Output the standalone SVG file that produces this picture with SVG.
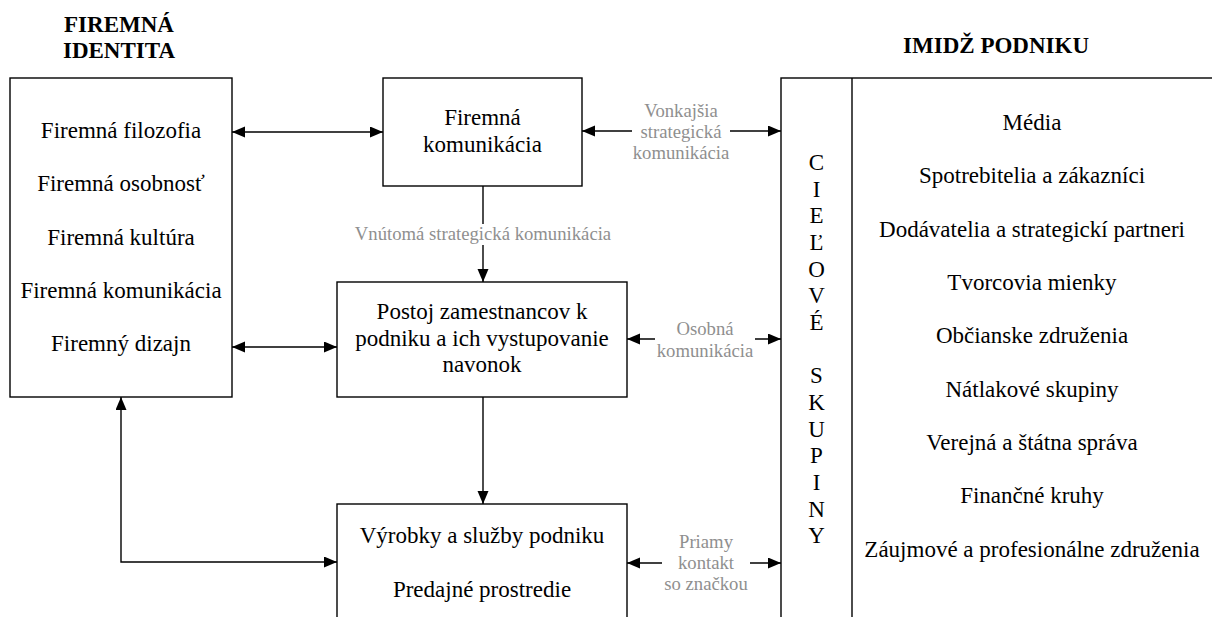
<svg xmlns="http://www.w3.org/2000/svg" width="1212" height="617" viewBox="0 0 1212 617">
<defs>
<marker id="ah" markerUnits="userSpaceOnUse" markerWidth="14" markerHeight="12" refX="13" refY="5.5" orient="auto-start-reverse"><path d="M0,0 L13,5.5 L0,11 z" fill="#000"/></marker>
</defs>
<style>
.box{fill:#fff;stroke:#000;stroke-width:1.4}
.t{font-family:'Liberation Serif',serif;font-size:23px;fill:#000;text-anchor:middle}
.h{font-family:'Liberation Serif',serif;font-size:23px;font-weight:bold;fill:#000;text-anchor:middle}
.g{font-family:'Liberation Serif',serif;font-size:18.7px;fill:#8f8f8f;text-anchor:middle}
.c{fill:none;stroke:#000;stroke-width:1.4}
.bg{fill:#fff;stroke:none}
</style>
<rect width="1212" height="617" fill="#fff"/>
<g id="title-identity">
<text class="h" x="119" y="32">FIREMNÁ</text>
<text class="h" x="119" y="58">IDENTITA</text>
</g>
<g id="title-image">
<text class="h" x="1089" y="53" style="text-anchor:end">IMIDŽ PODNIKU</text>
</g>
<g id="connectors">
<line class="c" x1="232" y1="132" x2="383" y2="132" marker-start="url(#ah)" marker-end="url(#ah)"/>
<line class="c" x1="232" y1="347" x2="337" y2="347" marker-start="url(#ah)" marker-end="url(#ah)"/>
<line class="c" x1="582" y1="131" x2="781" y2="131" marker-start="url(#ah)" marker-end="url(#ah)"/>
<line class="c" x1="483" y1="186" x2="483" y2="282" marker-end="url(#ah)"/>
<line class="c" x1="627" y1="339" x2="781" y2="339" marker-start="url(#ah)" marker-end="url(#ah)"/>
<line class="c" x1="483" y1="397" x2="483" y2="504" marker-end="url(#ah)"/>
<polyline class="c" points="121,397 121,562 337,562" marker-start="url(#ah)" marker-end="url(#ah)"/>
<line class="c" x1="627" y1="563" x2="781" y2="563" marker-start="url(#ah)" marker-end="url(#ah)"/>
<rect class="bg" x="632" y="98" width="98" height="66"/>
<text class="g" x="681" y="117">Vonkajšia</text>
<text class="g" x="681" y="138">strategická</text>
<text class="g" x="681" y="159">komunikácia</text>
<rect class="bg" x="350" y="224" width="266" height="21"/>
<text class="g" x="483" y="240">Vnútomá strategická komunikácia</text>
<rect class="bg" x="655" y="318" width="100" height="44"/>
<text class="g" x="705" y="335">Osobná</text>
<text class="g" x="705" y="357">komunikácia</text>
<rect class="bg" x="662" y="532" width="88" height="64"/>
<text class="g" x="706" y="548">Priamy</text>
<text class="g" x="706" y="569">kontakt</text>
<text class="g" x="706" y="590">so značkou</text>
</g>
<g id="identity">
<rect class="box" x="10" y="78" width="222" height="319"/>
<text class="t" x="121" y="137.5">Firemná filozofia</text>
<text class="t" x="121" y="191">Firemná osobnosť</text>
<text class="t" x="121" y="244.5">Firemná kultúra</text>
<text class="t" x="121" y="298">Firemná komunikácia</text>
<text class="t" x="121" y="351">Firemný dizajn</text>
</g>
<g id="communication">
<rect class="box" x="383" y="78" width="199" height="108"/>
<text class="t" x="482.5" y="125">Firemná</text>
<text class="t" x="482.5" y="152">komunikácia</text>
</g>
<g id="employees">
<rect class="box" x="337" y="282" width="290" height="115"/>
<text class="t" x="482" y="319">Postoj zamestnancov k</text>
<text class="t" x="482" y="346">podniku a ich vystupovanie</text>
<text class="t" x="482" y="372">navonok</text>
</g>
<g id="products">
<rect class="box" x="337" y="504" width="290" height="140"/>
<text class="t" x="482" y="543">Výrobky a služby podniku</text>
<text class="t" x="482" y="597">Predajné prostredie</text>
</g>
<g id="target-groups">
<rect class="box" x="781" y="78" width="450" height="560"/>
<line class="c" x1="852" y1="78" x2="852" y2="638"/>
<text class="t" x="816.5" y="170">C</text>
<text class="t" x="816.5" y="196.7">I</text>
<text class="t" x="816.5" y="223.3">E</text>
<text class="t" x="816.5" y="250">Ľ</text>
<text class="t" x="816.5" y="276.7">O</text>
<text class="t" x="816.5" y="303.3">V</text>
<text class="t" x="816.5" y="330">É</text>
<text class="t" x="816.5" y="383.3">S</text>
<text class="t" x="816.5" y="410">K</text>
<text class="t" x="816.5" y="436.7">U</text>
<text class="t" x="816.5" y="463.3">P</text>
<text class="t" x="816.5" y="490">I</text>
<text class="t" x="816.5" y="516.7">N</text>
<text class="t" x="816.5" y="543.3">Y</text>
<text class="t" x="1032" y="130">Média</text>
<text class="t" x="1032" y="183.3">Spotrebitelia a zákazníci</text>
<text class="t" x="1032" y="236.7">Dodávatelia a strategickí partneri</text>
<text class="t" x="1032" y="290">Tvorcovia mienky</text>
<text class="t" x="1032" y="343.3">Občianske združenia</text>
<text class="t" x="1032" y="396.7">Nátlakové skupiny</text>
<text class="t" x="1032" y="450">Verejná a štátna správa</text>
<text class="t" x="1032" y="503.3">Finančné kruhy</text>
<text class="t" x="1032" y="556.7">Záujmové a profesionálne združenia</text>
</g>
</svg>
